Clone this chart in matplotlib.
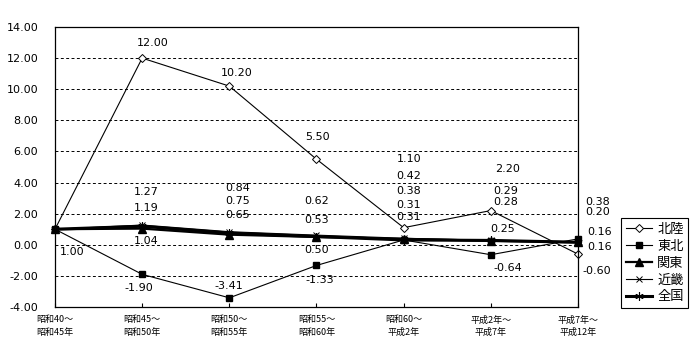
import numpy as np
import matplotlib
matplotlib.use("Agg")
import matplotlib.pyplot as plt
from matplotlib.ticker import FixedLocator, FormatStrFormatter

plt.rcParams['font.family'] = ['DejaVu Sans', 'Noto Sans CJK JP']
plt.rcParams['axes.unicode_minus'] = False

periods = ["昭和40～\n昭和45年", "昭和45～\n昭和50年", "昭和50～\n昭和55年",
           "昭和55～\n昭和60年", "昭和60～\n平成2年", "平成2年～\n平成7年",
           "平成7年～\n平成12年"]

hokuriku = [1.00, 12.00, 10.20, 5.50, 1.10, 2.20, -0.60]
tohoku = [1.00, -1.90, -3.41, -1.33, 0.31, -0.64, 0.38]
kanto = [1.00, 1.04, 0.65, 0.50, 0.38, 0.25, 0.16]
kinki = [1.00, 1.27, 0.84, 0.62, 0.42, 0.29, 0.20]
zenkoku = [1.00, 1.19, 0.75, 0.53, 0.31, 0.28, 0.16]

# label offsets in pixels (dx, dy down), None = no label
off_hokuriku = [(17, 23), (11, -15), (7, -13), (1, -22), (5, -69), (17, -42), (19, 17)]
off_tohoku = [None, (-3, 14), (-1, -12), (3, 15), (5, -23), (17, 13), (20, -37)]
off_kanto = [None, (4, 12), (8, -20), (0, 13), (5, -48), (12, -12), (22, -10)]
off_kinki = [None, (4, -33), (8, -44), (0, -34), (5, -62), (15, -49), (20, -30)]
off_zenkoku = [None, (4, -18), (8, -32), (0, -17), (5, -35), (15, -38), (22, 5)]

fig = plt.figure(figsize=(7, 3.6), dpi=100)
ax = fig.add_axes([55/700, 53/360, 523/700, 280/360])

x = np.arange(len(periods))
series = [
    ("北陸", hokuriku, off_hokuriku, dict(marker='D', ms=4.5, mfc='white', mec='black', mew=0.7, lw=0.8)),
    ("東北", tohoku, off_tohoku, dict(marker='s', ms=5, mfc='black', mec='black', lw=0.8)),
    ("関東", kanto, off_kanto, dict(marker='^', ms=5.5, mfc='black', mec='black', lw=1.6)),
    ("近畿", kinki, off_kinki, dict(marker='x', ms=4.5, mec='black', mew=0.7, lw=0.8)),
    ("全国", zenkoku, off_zenkoku, dict(marker=(6, 2, 0), ms=6, mec='black', mew=0.8, lw=2.2)),
]

handles = []
for name, vals, offs, st in series:
    h, = ax.plot(x, vals, color='black', label=name, clip_on=False, **st)
    handles.append(h)
    for xi, v, o in zip(x, vals, offs):
        if o is None:
            continue
        ax.annotate(f"{v:.2f}", (xi, v), xytext=(o[0], -o[1]),
                    textcoords='offset pixels', ha='center', va='center',
                    fontsize=8, annotation_clip=False)

ax.set_xlim(0, 6)
ax.set_ylim(-4, 14)
ax.yaxis.set_major_locator(FixedLocator(np.arange(-4, 15, 2)))
ax.yaxis.set_major_formatter(FormatStrFormatter('%.2f'))
ax.tick_params(axis='y', length=0, pad=12, labelsize=8)
ax.set_xticks(x)
ax.set_xticklabels(periods, fontsize=6.5, linespacing=1.5,
                   family=['Noto Sans CJK JP', 'DejaVu Sans'])
ax.tick_params(axis='x', direction='in', length=3, width=0.8, pad=6)
for g in np.arange(-2, 14, 2):
    ax.axhline(g, color='black', lw=0.7, ls=(0, (3, 2.5)), zorder=0)
for s in ax.spines.values():
    s.set_linewidth(0.9)

leg = fig.legend(handles=handles, loc='upper left', bbox_to_anchor=(621/700, 1 - 218/360),
                 prop={'family': ['Noto Sans CJK JP'], 'size': 9.5},
                 frameon=True, fancybox=False, edgecolor='black', framealpha=1,
                 handlelength=2.0, handletextpad=0.4, labelspacing=0.3,
                 borderpad=0.35, borderaxespad=0)
leg.get_frame().set_linewidth(0.8)

fig.savefig("out.png", dpi=100)
